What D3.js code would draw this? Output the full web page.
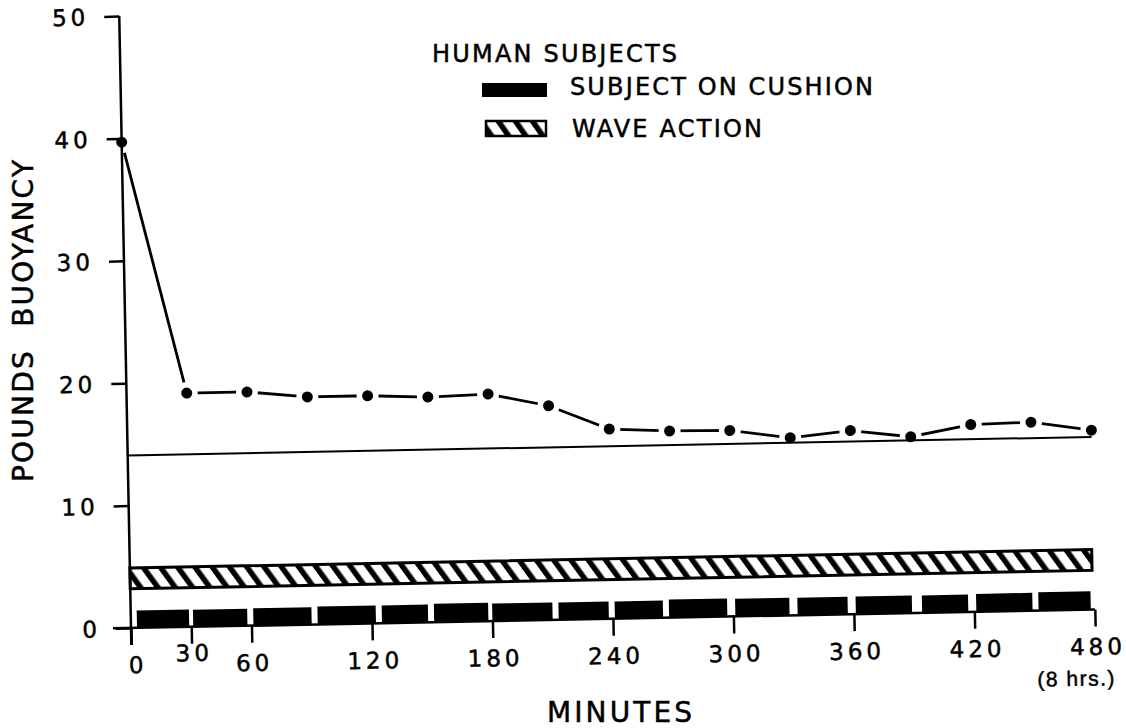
<!DOCTYPE html>
<html>
<head>
<meta charset="utf-8">
<script src="https://cdn.jsdelivr.net/npm/d3@7"></script>
<style>
    body { margin: 0; background: #fff; }
    svg { display: block; font-family: "DejaVu Sans", sans-serif; }
    text { stroke: #000; stroke-width: 0.5px; }
</style>
</head>
<body>
<div id="chart"></div>
<script>
// buoyancy readings, every 30 minutes
const minutes = [0, 30, 60, 90, 120, 150, 180, 210, 240, 270, 300, 330, 360, 390, 420, 450, 480];
const buoyancy = [39.7, 19.1, 19.1, 18.6, 18.6, 18.4, 18.55, 17.5, 15.5, 15.25, 15.2, 14.5, 15.0, 14.4, 15.3, 15.4, 14.65];

// flat line under the readings
const referenceLevel = 14.1;

// wave action band (pounds) and its time span
const waveBand = [3.2, 4.9];
const waveSpan = [0, 479];

// subject on cushion periods
const cushionStart = [3, 31, 61, 93, 125, 151, 180, 213, 241, 268, 301, 332, 361, 394, 421, 452];
const cushionEnd = [29, 58, 90, 122, 148, 178, 210, 238, 265, 297, 328, 357, 389, 417, 449, 478];
const cushionLoad = [1.42, 1.39, 1.42, 1.46, 1.45, 1.5, 1.43, 1.42, 1.41, 1.48, 1.44, 1.42, 1.43, 1.42, 1.46, 1.5];

const xTicks = [0, 30, 60, 120, 180, 240, 300, 360, 420, 480];
const yTicks = [0, 10, 20, 30, 40, 50];

const width = 1126,
    height = 728,
    originX = 131,
    originY = 628,
    tilt = -1.1; // the scanned sheet sits a little crooked

const svg = d3.select('#chart').append('svg')
    .attr('width', width)
    .attr('height', height);

svg.append('defs').append('pattern')
    .attr('id', 'hatch')
    .attr('patternUnits', 'userSpaceOnUse')
    .attr('width', 14)
    .attr('height', 14)
    .attr('patternTransform', 'rotate(-35)')
    .append('rect')
    .attr('width', 5.5)
    .attr('height', 14)
    .attr('fill', '#000');

const x = d3.scaleLinear().domain([0, 480]).range([originX, 1095]);
const y = d3.scaleLinear().domain([0, 50]).range([originY, 16]);

const plot = svg.append('g')
    .attr('transform', 'rotate(' + tilt + ',' + originX + ',' + originY + ')');

const points = minutes.map((m, i) => [m, buoyancy[i]]);

plot.append('path')
    .datum(points)
    .attr('fill', 'none')
    .attr('stroke', '#000')
    .attr('stroke-width', 2.8)
    .attr('d', d3.line().x(d => x(d[0])).y(d => y(d[1])));

// white rings so the line breaks around each dot
plot.selectAll('.halo')
    .data(points)
    .enter().append('circle')
    .attr('class', 'halo')
    .attr('cx', d => x(d[0]))
    .attr('cy', d => y(d[1]))
    .attr('r', 11)
    .attr('fill', '#fff');

plot.append('line')
    .attr('x1', x(0))
    .attr('x2', x(480))
    .attr('y1', y(referenceLevel))
    .attr('y2', y(referenceLevel))
    .attr('stroke', '#000')
    .attr('stroke-width', 2);

plot.append('rect')
    .attr('x', x(waveSpan[0]))
    .attr('y', y(waveBand[1]))
    .attr('width', x(waveSpan[1]) - x(waveSpan[0]))
    .attr('height', y(waveBand[0]) - y(waveBand[1]))
    .attr('fill', 'url(#hatch)')
    .attr('stroke', '#000')
    .attr('stroke-width', 3);

plot.selectAll('.cushion')
    .data(cushionStart)
    .enter().append('rect')
    .attr('class', 'cushion')
    .attr('x', d => x(d))
    .attr('y', (d, i) => y(cushionLoad[i]))
    .attr('width', (d, i) => x(cushionEnd[i]) - x(d))
    .attr('height', (d, i) => y(0) - y(cushionLoad[i]))
    .attr('fill', '#000');

plot.selectAll('.dot')
    .data(points)
    .enter().append('circle')
    .attr('class', 'dot')
    .attr('cx', d => x(d[0]))
    .attr('cy', d => y(d[1]))
    .attr('r', 5.5)
    .attr('fill', '#000');

// axes
const yAxis = plot.append('g')
    .attr('transform', 'translate(' + originX + ',0)')
    .call(d3.axisLeft(y).tickValues(yTicks).tickSize(15).tickPadding(15));

const xAxis = plot.append('g')
    .attr('transform', 'translate(0,' + originY + ')')
    .call(d3.axisBottom(x).tickValues(xTicks).tickSize(17).tickPadding(12));

[xAxis, yAxis].forEach(g => {
    g.select('.domain').remove();
    g.selectAll('line').attr('stroke', '#000').attr('stroke-width', 2.5);
    g.selectAll('text')
        .attr('fill', '#000')
        .style('font-family', '"DejaVu Sans", sans-serif')
        .style('font-size', '23px')
        .style('letter-spacing', '4px');
});

yAxis.selectAll('text').attr('dy', '0.36em');

xAxis.selectAll('text')
    .attr('x', d => d === 0 ? 6 : 2)
    .attr('y', d => d === 30 ? 18 : 29);

xAxis.selectAll('.tick')
    .filter(d => d === 480)
    .append('text')
    .attr('x', -20)
    .attr('y', 76)
    .attr('text-anchor', 'middle')
    .attr('fill', '#000')
    .style('font-size', '21px')
    .style('letter-spacing', '1.5px')
    .text('(8 hrs.)');

plot.append('line')
    .attr('x1', x(0) - 18)
    .attr('x2', x(480))
    .attr('y1', y(0))
    .attr('y2', y(0))
    .attr('stroke', '#000')
    .attr('stroke-width', 2.5);

plot.append('line')
    .attr('x1', x(0))
    .attr('x2', x(0))
    .attr('y1', y(0) + 17)
    .attr('y2', y(50))
    .attr('stroke', '#000')
    .attr('stroke-width', 2.5);

// legend
const legend = svg.append('g').attr('fill', '#000').style('font-size', '24px');

legend.append('text')
    .attr('x', 432).attr('y', 62)
    .attr('textLength', 245).attr('lengthAdjust', 'spacing')
    .text('HUMAN SUBJECTS');

legend.append('rect')
    .attr('x', 482).attr('y', 83)
    .attr('width', 65).attr('height', 14);

legend.append('text')
    .attr('x', 570).attr('y', 95)
    .attr('textLength', 303).attr('lengthAdjust', 'spacing')
    .text('SUBJECT ON CUSHION');

legend.append('rect')
    .attr('x', 486).attr('y', 121)
    .attr('width', 60).attr('height', 15)
    .attr('fill', 'url(#hatch)')
    .attr('stroke', '#000')
    .attr('stroke-width', 2.5);

legend.append('text')
    .attr('x', 572).attr('y', 137)
    .attr('textLength', 190).attr('lengthAdjust', 'spacing')
    .text('WAVE ACTION');

// axis titles
svg.append('text')
    .attr('x', 547).attr('y', 722)
    .attr('textLength', 145).attr('lengthAdjust', 'spacing')
    .style('font-size', '28px')
    .text('MINUTES');

svg.append('text')
    .attr('transform', 'translate(33,321) rotate(-90)')
    .attr('text-anchor', 'middle')
    .attr('textLength', 322).attr('lengthAdjust', 'spacing')
    .style('font-size', '28px')
    .style('white-space', 'pre')
    .text('POUNDS  BUOYANCY');
</script>
</body>
</html>
